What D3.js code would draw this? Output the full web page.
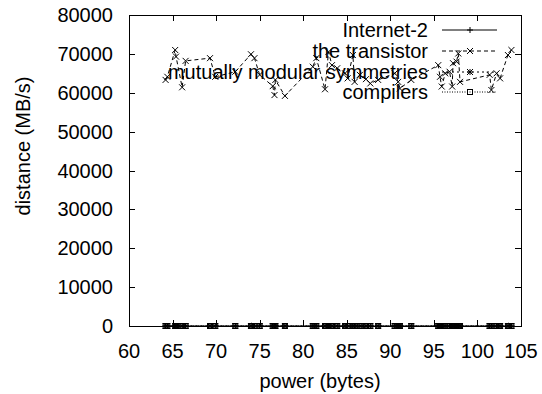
<!DOCTYPE html>
<html>
<head>
<meta charset="utf-8">
<script src="https://cdn.jsdelivr.net/npm/d3@7/dist/d3.min.js"></script>
<style>
  body { margin: 0; background: #fff; }
  text { font-family: "Liberation Sans", Arial, sans-serif; fill: #000; font-size: 20px; }
</style>
</head>
<body>
<div id="chart"></div>
<script>
var width = 542;
var height = 394;

// power (bytes) -- shared by every series
var power = [64.2, 64.4, 65.3, 65.4, 66.1, 66.5, 69.3, 69.9, 72.2, 74.0,
    74.4, 75.0, 76.5, 76.7, 76.8, 77.9, 81.1, 81.5, 82.5, 82.9,
    83.3, 83.9, 84.8, 85.1, 85.7, 85.9, 86.5, 87.2, 87.7, 88.6,
    90.5, 90.9, 91.1, 92.4, 95.5, 95.7, 95.9, 96.3, 96.8, 97.1,
    97.2, 97.6, 97.8, 98.0, 101.4, 101.6, 102.2, 102.6, 103.5, 103.9];

var internet2 = [0, 0, 0, 0, 0, 0, 0, 0, 0, 0, 0, 0, 0, 0, 0, 0, 0, 0, 0, 0, 0, 0, 0, 0, 0,
    0, 0, 0, 0, 0, 0, 0, 0, 0, 0, 0, 0, 0, 0, 0, 0, 0, 0, 0, 0, 0, 0, 0, 0, 0];

var transistor = [63300, 64100, 71000, 69300, 61400, 68200, 68900, 64100, 65400, 69900,
    68900, 64600, 61700, 59400, 63300, 59200, 66700, 68900, 60900, 70500,
    67100, 66300, 65000, 63700, 69700, 62800, 64600, 63500, 62400, 63300,
    65000, 62800, 61100, 63300, 67100, 64100, 61600, 65000, 65400, 61600,
    67600, 68000, 70100, 62800, 64600, 60700, 65000, 63700, 69700, 71000];

var symmetries = [0, 0, 0, 0, 0, 0, 0, 0, 0, 0, 0, 0, 0, 0, 0, 0, 0, 0, 0, 0, 0, 0, 0, 0, 0,
    0, 0, 0, 0, 0, 0, 0, 0, 0, 0, 0, 0, 0, 0, 0, 0, 0, 0, 0, 0, 0, 0, 0, 0, 0];

var compilers = [0, 0, 0, 0, 0, 0, 0, 0, 0, 0, 0, 0, 0, 0, 0, 0, 0, 0, 0, 0, 0, 0, 0, 0, 0,
    0, 0, 0, 0, 0, 0, 0, 0, 0, 0, 0, 0, 0, 0, 0, 0, 0, 0, 0, 0, 0, 0, 0, 0, 0];

var seriesNames = ["Internet-2", "the transistor", "mutually modular symmetries", "compilers"];
var xTicks = [60, 65, 70, 75, 80, 85, 90, 95, 100, 105];
var yTicks = [0, 10000, 20000, 30000, 40000, 50000, 60000, 70000, 80000];

var plotLeft = 129, plotRight = 521, plotTop = 15, plotBottom = 326;

var svg = d3.select("#chart").append("svg")
    .attr("width", width)
    .attr("height", height);

var x = d3.scaleLinear().domain([60, 105]).range([plotLeft, plotRight]);
var y = d3.scaleLinear().domain([0, 80000]).range([plotBottom, plotTop]);

var series = [
    {name: seriesNames[0], values: internet2, dash: null, mark: "plus"},
    {name: seriesNames[1], values: transistor, dash: "4,3", mark: "cross"},
    {name: seriesNames[2], values: symmetries, dash: "2,3", mark: "star"},
    {name: seriesNames[3], values: compilers, dash: "1,1.5", mark: "box"}
];

// ticks, inward on all four sides
var tickLen = 6;
var ticks = svg.append("g").attr("stroke", "#000").attr("stroke-width", 1);
xTicks.forEach(function (t) {
    var px = Math.round(x(t)) + 0.5;
    ticks.append("line").attr("x1", px).attr("x2", px).attr("y1", plotBottom).attr("y2", plotBottom - tickLen);
    ticks.append("line").attr("x1", px).attr("x2", px).attr("y1", plotTop).attr("y2", plotTop + tickLen);
    svg.append("text").attr("x", x(t)).attr("y", 358)
        .attr("text-anchor", "middle").text(t);
});
yTicks.forEach(function (t) {
    var py = Math.round(y(t)) + 0.5;
    ticks.append("line").attr("x1", plotLeft).attr("x2", plotLeft + tickLen).attr("y1", py).attr("y2", py);
    ticks.append("line").attr("x1", plotRight).attr("x2", plotRight - tickLen).attr("y1", py).attr("y2", py);
    svg.append("text").attr("x", 113).attr("y", y(t) + 7)
        .attr("text-anchor", "end").text(t);
});

svg.append("rect")
    .attr("x", plotLeft + 0.5).attr("y", plotTop + 0.5)
    .attr("width", plotRight - plotLeft).attr("height", plotBottom - plotTop)
    .attr("fill", "none").attr("stroke", "#000");

svg.append("text").attr("x", 320).attr("y", 388)
    .attr("text-anchor", "middle").text("power (bytes)");
svg.append("text")
    .attr("transform", "translate(30,146) rotate(-90)")
    .attr("text-anchor", "middle").text("distance (MB/s)");

function drawMark(g, kind, cx, cy) {
    var s = 3;
    if (kind === "plus" || kind === "star") {
        g.append("path").attr("d", "M" + (cx - s) + "," + cy + "H" + (cx + s) + "M" + cx + "," + (cy - s) + "V" + (cy + s));
    }
    if (kind === "cross" || kind === "star") {
        g.append("path").attr("d", "M" + (cx - s) + "," + (cy - s) + "L" + (cx + s) + "," + (cy + s) +
            "M" + (cx - s) + "," + (cy + s) + "L" + (cx + s) + "," + (cy - s));
    }
    if (kind === "box") {
        g.append("rect").attr("x", cx - 2.5).attr("y", cy - 2.5).attr("width", 5).attr("height", 5).attr("fill", "none");
    }
}

var line = d3.line()
    .x(function (d) { return x(d[0]); })
    .y(function (d) { return y(d[1]); });

var legendY = [30, 51, 72, 92];

series.forEach(function (s, i) {
    var pts = power.map(function (p, j) { return [p, s.values[j]]; });
    var g = svg.append("g").attr("stroke", "#000").attr("stroke-width", 1).attr("fill", "none");
    g.append("path").attr("d", line(pts)).attr("stroke-dasharray", s.dash);
    pts.forEach(function (d) { drawMark(g, s.mark, x(d[0]), y(d[1])); });

    // legend entry
    var ly = legendY[i];
    svg.append("text").attr("x", 428).attr("y", ly + 7)
        .attr("text-anchor", "end").text(s.name);
    var lg = svg.append("g").attr("stroke", "#000").attr("stroke-width", 1).attr("fill", "none");
    lg.append("line").attr("x1", 442).attr("x2", 497).attr("y1", ly).attr("y2", ly)
        .attr("stroke-dasharray", s.dash);
    drawMark(lg, s.mark, 470, ly);
});
</script>
</body>
</html>
